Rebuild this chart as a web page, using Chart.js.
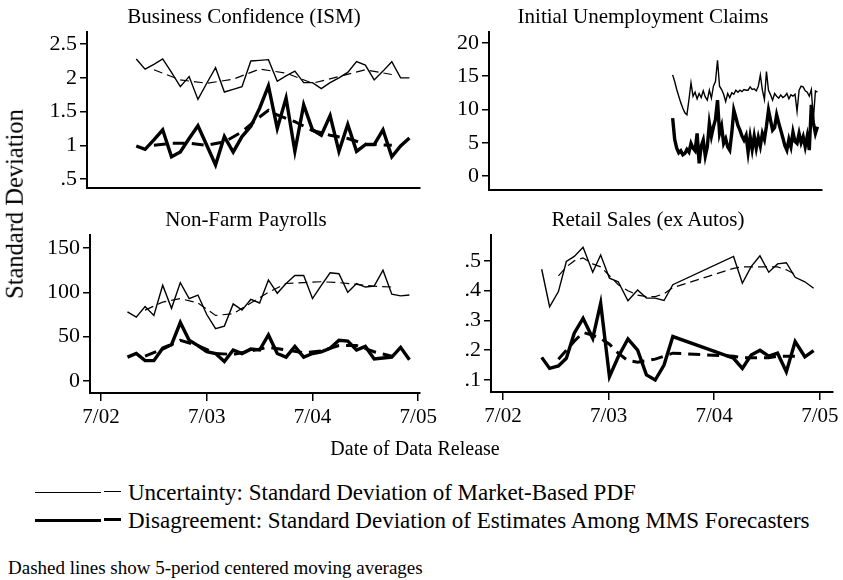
<!DOCTYPE html>
<html>
<head>
<meta charset="utf-8">
<title>Uncertainty and Disagreement</title>
<script src="https://cdn.jsdelivr.net/npm/chart.js@4.4.0/dist/chart.umd.min.js"></script>
<style>
  body { margin: 0; background: #fff; }
  #page { position: relative; width: 843px; height: 580px; overflow: hidden; background: #fff;
          font-family: "Liberation Serif", "Times New Roman", serif; color: #000; }
  #page canvas { position: absolute; }
  .txt { position: absolute; white-space: nowrap; line-height: 1; }
  .title { font-size: 21px; transform: translateX(-50%); }
  .legend { font-size: 23px; }
  .key { position: absolute; background: #000; }
</style>
</head>
<body>
<div id="page">
  <canvas id="ism-chart" width="430" height="195" style="left:0;top:10px"></canvas>
  <canvas id="claims-chart" width="418" height="200" style="left:425px;top:10px"></canvas>
  <canvas id="nfp-chart" width="445" height="225" style="left:0;top:215px"></canvas>
  <canvas id="retail-chart" width="413" height="225" style="left:430px;top:215px"></canvas>

  <div class="txt title" style="left:244px;top:6px">Business Confidence (ISM)</div>
  <div class="txt title" style="left:643px;top:6px">Initial Unemployment Claims</div>
  <div class="txt title" style="left:246px;top:209px">Non-Farm Payrolls</div>
  <div class="txt title" style="left:648px;top:209px">Retail Sales (ex Autos)</div>

  <div class="txt" style="left:15px;top:204px;font-size:24.5px;transform:translate(-50%,-50%) rotate(-90deg)">Standard Deviation</div>
  <div class="txt" style="left:415px;top:438px;font-size:20px;transform:translateX(-50%)">Date of Data Release</div>

  <div class="key" style="left:35px;top:492px;width:66px;height:1px"></div>
  <div class="key" style="left:104px;top:491px;width:17px;height:1px"></div>
  <div class="txt legend" style="left:128px;top:481px">Uncertainty: Standard Deviation of Market-Based PDF</div>
  <div class="key" style="left:35px;top:519px;width:66px;height:3px"></div>
  <div class="key" style="left:104px;top:518px;width:17px;height:3px"></div>
  <div class="txt legend" style="left:128px;top:509px">Disagreement: Standard Deviation of Estimates Among MMS Forecasters</div>
  <div class="txt" style="left:8px;top:558px;font-size:19px">Dashed lines show 5-period centered moving averages</div>
</div>

<script>
// x values are months since July 2002
const yearTickValues = [0, 12, 24, 36];
const yearTickLabels = ['7/02', '7/03', '7/04', '7/05'];

// Business Confidence (ISM), monthly
const ismMonths = [4, 5, 6, 7, 8, 9, 10, 11, 12, 13, 14, 15, 16, 17, 18, 19, 20, 21, 22, 23, 24, 25, 26, 27, 28, 29, 30, 31, 32, 33, 34, 35];
const ismUncertainty = [2.28, 2.13, 2.20, 2.28, 2.08, 1.87, 2.02, 1.68, 1.92, 2.15, 1.79, 1.83, 1.87, 2.25, 2.26, 2.27, 1.95, 2.03, 2.10, 1.93, 1.93, 1.84, 1.93, 2.00, 2.08, 2.24, 2.19, 1.97, 2.10, 2.24, 2.00, 2.00];
const ismDisagreement = [0.99, 0.94, 1.08, 1.23, 0.83, 0.90, 1.10, 1.29, 1.00, 0.71, 1.13, 0.90, 1.13, 1.28, 1.55, 1.88, 1.25, 1.70, 0.91, 1.60, 1.23, 1.15, 1.44, 0.91, 1.31, 0.91, 1.01, 1.01, 1.23, 0.83, 0.99, 1.11];
const ismUncertaintyAvgMonths = [6, 9, 12, 15, 18, 21, 24, 27, 30, 33];
const ismUncertaintyAvg = [2.12, 1.97, 1.92, 1.98, 2.13, 2.07, 1.92, 2.02, 2.12, 2.05];
const ismDisagreementAvgMonths = [6, 8, 10, 12, 14, 16, 18, 19, 20, 22, 24, 26, 28, 30, 33];
const ismDisagreementAvg = [1.00, 1.03, 1.03, 1.00, 1.05, 1.20, 1.42, 1.52, 1.45, 1.35, 1.22, 1.15, 1.10, 1.02, 1.00];
const ismTicks = [0.5, 1, 1.5, 2, 2.5];
const ismTickLabels = ['.5', '1', '1.5', '2', '2.5'];

// Initial Unemployment Claims, weekly from mid-Feb 2004
const claimsStartMonth = 19.3;
const claimsUncertainty = [15.2, 14.2, 13.0, 12.0, 11.0, 10.2, 9.5, 9.2, 11.5, 14.0,
  12.0, 12.6, 11.6, 12.4, 11.8, 12.8, 11.9, 11.4, 12.9, 11.7,
  13.5, 14.2, 17.4, 13.5, 13.0, 12.3, 11.2, 12.4, 11.8, 12.5,
  12.3, 12.9, 12.6, 12.9, 12.7, 13.0, 12.9, 12.9, 13.4, 13.0,
  13.1, 12.8, 13.5, 15.2, 12.9, 11.5, 15.7, 12.9, 12.2, 11.4,
  12.4, 12.0, 11.7, 12.2, 11.8, 12.0, 12.4, 11.6, 12.2, 12.0,
  12.3, 9.7, 12.9, 13.5, 13.4, 12.8, 12.6, 12.0, 13.0, 8.5,
  12.8, 12.6];
const claimsDisagreement = [8.7, 5.5, 4.2, 3.5, 3.8, 3.2, 3.4, 4.0, 3.6, 4.9,
  4.2, 3.8, 6.4, 1.9, 4.5, 5.4, 3.0, 4.4, 7.9, 6.0,
  7.4, 8.5, 11.4, 6.4, 7.5, 4.9, 5.6, 4.4, 3.9, 6.5,
  9.9, 8.8, 7.6, 6.9, 6.0, 5.4, 6.1, 3.6, 5.9, 4.0,
  6.0, 4.2, 5.8, 4.5, 6.4, 5.5, 7.5, 9.9, 8.4, 6.9,
  7.3, 9.2, 8.0, 6.9, 5.8, 4.6, 3.9, 5.5, 4.4, 6.6,
  5.2, 4.9, 6.4, 5.0, 5.9, 4.4, 6.0, 3.9, 10.7, 8.0,
  6.4, 7.4];
const claimsTicks = [0, 5, 10, 15, 20];
const claimsTickLabels = ['0', '5', '10', '15', '20'];

// Non-Farm Payrolls, monthly
const nfpMonths = [3, 4, 5, 6, 7, 8, 9, 10, 11, 12, 13, 14, 15, 16, 17, 18, 19, 20, 21, 22, 23, 24, 25, 26, 27, 28, 29, 30, 31, 32, 33, 34, 35];
const nfpUncertainty = [78, 72, 84, 74, 108, 82, 111, 93, 97, 75, 59, 62, 87, 80, 92, 88, 114, 99, 110, 119, 119, 93, 108, 122, 121, 100, 110, 106, 107, 125, 98, 96, 97];
const nfpDisagreement = [27, 31, 23, 23, 37, 41, 66, 46, 40, 33, 31, 22, 35, 31, 36, 35, 52, 31, 27, 39, 27, 31, 33, 37, 46, 45, 35, 39, 25, 26, 27, 38, 24];
const nfpAvgMonths = [5, 7, 9, 11, 13, 15, 17, 19, 21, 23, 25, 27, 29, 31, 33];
const nfpUncertaintyAvg = [80, 89, 93, 88, 74, 76, 88, 100, 110, 111, 112, 111, 109, 107, 106];
const nfpDisagreementAvg = [28, 36, 46, 40, 31, 30, 34, 38, 35, 32, 34, 40, 40, 33, 28];
const nfpTicks = [0, 50, 100, 150];
const nfpTickLabels = ['0', '50', '100', '150'];

// Retail Sales (ex Autos), monthly with a gap in 2004
const retailMonths = [4.4, 5.3, 6.3, 7.2, 8.1, 9.1, 10.2, 11.1, 12.1, 13.1, 14.2, 15.3, 16.3, 17.3, 18.3, 19.3, 26.2, 27.2, 28.2, 29.2, 30.2, 31.2, 32.2, 33.2, 34.3, 35.3];
const retailUncertainty = [0.472, 0.346, 0.397, 0.498, 0.515, 0.546, 0.462, 0.520, 0.442, 0.430, 0.366, 0.402, 0.375, 0.375, 0.367, 0.420, 0.515, 0.425, 0.481, 0.517, 0.462, 0.490, 0.494, 0.445, 0.430, 0.408];
const retailDisagreement = [0.176, 0.139, 0.147, 0.173, 0.257, 0.307, 0.240, 0.358, 0.111, 0.178, 0.238, 0.200, 0.117, 0.100, 0.150, 0.246, 0.173, 0.139, 0.184, 0.200, 0.180, 0.190, 0.128, 0.229, 0.178, 0.199];
const retailAvgMonths = [6.3, 7.2, 8.1, 9.1, 10.2, 11.1, 12.1, 13.1, 14.2, 15.3, 16.3, 17.3, 18.3, 19.3, 26.2, 27.2, 28.2, 29.2, 30.2, 31.2, 32.2, 33.2];
const retailUncertaintyAvg = [0.45, 0.48, 0.50, 0.51, 0.49, 0.48, 0.45, 0.42, 0.40, 0.385, 0.38, 0.38, 0.39, 0.41, 0.475, 0.48, 0.48, 0.48, 0.48, 0.48, 0.47, 0.455];
const retailDisagreementAvg = [0.17, 0.20, 0.23, 0.26, 0.25, 0.24, 0.22, 0.19, 0.165, 0.16, 0.165, 0.17, 0.18, 0.19, 0.18, 0.175, 0.175, 0.175, 0.175, 0.18, 0.18, 0.18];
const retailTicks = [0.1, 0.2, 0.3, 0.4, 0.5];
const retailTickLabels = ['.1', '.2', '.3', '.4', '.5'];

const claimsWeeks = claimsUncertainty.map((v, i) => claimsStartMonth + i * 12 / 52);

const FONT = 'Liberation Serif';

// line styles
const thin = { width: 1.4, dash: [] };
const thick = { width: 3.4, dash: [] };
const thinDash = { width: 1.2, dash: [9, 5] };
const thickDash = { width: 3, dash: [12, 7] };

function series(xs, ys, style) {
  return {
    data: xs.map((x, i) => ({ x: x, y: ys[i] })),
    borderColor: '#000',
    borderWidth: style.width,
    borderDash: style.dash,
    borderCapStyle: 'butt',
    borderJoinStyle: 'miter',
    pointRadius: 0,
    tension: 0,
    fill: false
  };
}

function makePanel(id, cfg) {
  return new Chart(document.getElementById(id), {
    type: 'line',
    data: { datasets: cfg.datasets },
    options: {
      responsive: false,
      animation: false,
      events: [],
      layout: { padding: cfg.padding },
      plugins: { legend: { display: false }, tooltip: { enabled: false }, title: { display: false } },
      scales: {
        x: {
          type: 'linear',
          min: cfg.xMin,
          max: cfg.xMax,
          afterBuildTicks: s => { s.ticks = yearTickValues.map(v => ({ value: v })); },
          afterFit: s => { s.height = cfg.xHeight; },
          ticks: {
            display: cfg.showX,
            autoSkip: false,
            maxRotation: 0,
            padding: 4,
            color: '#000',
            font: { family: FONT, size: 21 },
            callback: (v, i) => yearTickLabels[i]
          },
          grid: { drawOnChartArea: false, drawTicks: cfg.showX, tickLength: 8, color: '#000', lineWidth: 1.5 },
          border: { display: true, color: '#000', width: 2 }
        },
        y: {
          type: 'linear',
          min: cfg.yMin,
          max: cfg.yMax,
          afterBuildTicks: s => { s.ticks = cfg.yTicks.map(v => ({ value: v })); },
          afterFit: s => { s.width = cfg.yWidth; },
          ticks: {
            autoSkip: false,
            padding: 3,
            color: '#000',
            font: { family: FONT, size: 22 },
            callback: (v, i) => cfg.yLabels[i]
          },
          grid: { drawOnChartArea: false, drawTicks: true, tickLength: 7, color: '#000', lineWidth: 1.5 },
          border: { display: true, color: '#000', width: 2 }
        }
      }
    }
  });
}

makePanel('ism-chart', {
  datasets: [
    series(ismUncertaintyAvgMonths, ismUncertaintyAvg, thinDash),
    series(ismDisagreementAvgMonths, ismDisagreementAvg, thickDash),
    series(ismMonths, ismUncertainty, thin),
    series(ismMonths, ismDisagreement, thick)
  ],
  xMin: -1.59, xMax: 36.2, yMin: 0.367, yMax: 2.68,
  yTicks: ismTicks, yLabels: ismTickLabels,
  yWidth: 87, xHeight: 17, showX: false,
  padding: { top: 22, left: 0, right: 10, bottom: 0 }
});

makePanel('claims-chart', {
  datasets: [
    series(claimsWeeks, claimsUncertainty, thin),
    series(claimsWeeks, claimsDisagreement, thick)
  ],
  xMin: -1.48, xMax: 36.2, yMin: -2.1, yMax: 21.65,
  yTicks: claimsTicks, yLabels: claimsTickLabels,
  yWidth: 64, xHeight: 20, showX: false,
  padding: { top: 22, left: 0, right: 21, bottom: 0 }
});

makePanel('nfp-chart', {
  datasets: [
    series(nfpAvgMonths, nfpUncertaintyAvg, thinDash),
    series(nfpAvgMonths, nfpDisagreementAvg, thickDash),
    series(nfpMonths, nfpUncertainty, thin),
    series(nfpMonths, nfpDisagreement, thick)
  ],
  xMin: -1.25, xMax: 36.2, yMin: -13.5, yMax: 164.7,
  yTicks: nfpTicks, yLabels: nfpTickLabels,
  yWidth: 90, xHeight: 47, showX: true,
  padding: { top: 20, left: 0, right: 25, bottom: 0 }
});

makePanel('retail-chart', {
  datasets: [
    series(retailAvgMonths, retailUncertaintyAvg, thinDash),
    series(retailAvgMonths, retailDisagreementAvg, thickDash),
    series(retailMonths, retailUncertainty, thin),
    series(retailMonths, retailDisagreement, thick)
  ],
  xMin: -1.36, xMax: 37.5, yMin: 0.0597, yMax: 0.587,
  yTicks: retailTicks, yLabels: retailTickLabels,
  yWidth: 61, xHeight: 48, showX: true,
  padding: { top: 20, left: 0, right: 10, bottom: 0 }
});
</script>
</body>
</html>
